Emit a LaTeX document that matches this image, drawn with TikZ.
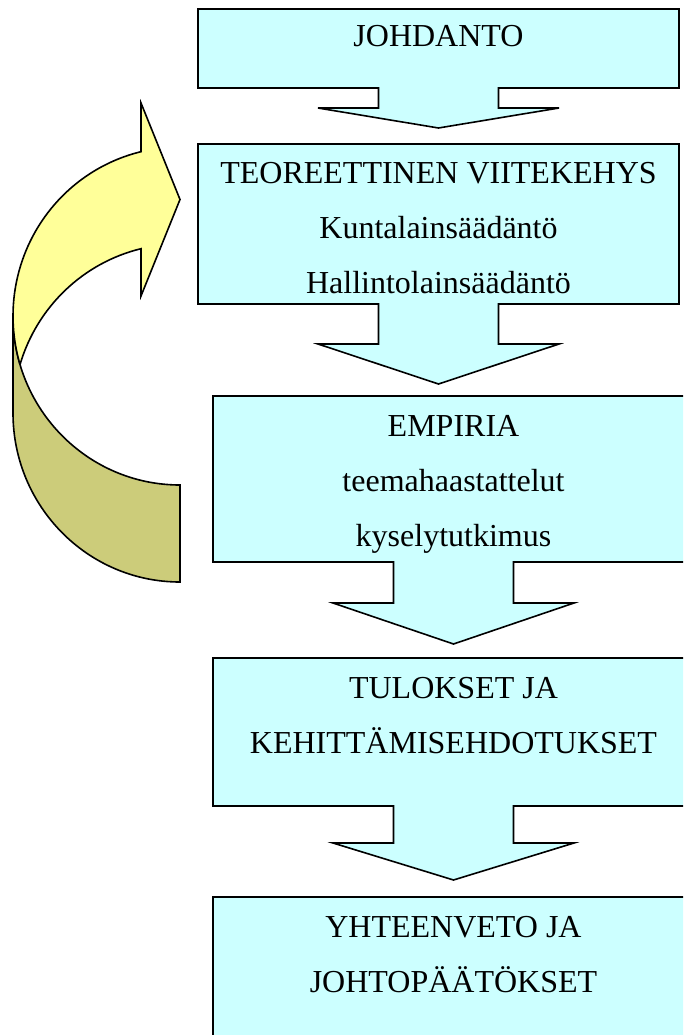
\documentclass[tikz,border=0pt]{standalone}
\usepackage{fontspec}
\setmainfont{Liberation Serif}

\definecolor{boxcyan}{HTML}{CCFFFF}
\definecolor{loopyellow}{HTML}{FFFF99}
\definecolor{loopolive}{RGB}{204,204,122}

\begin{document}
\begin{tikzpicture}[x=1pt, y=-1pt, line join=miter,
  callout/.style={fill=boxcyan, draw=black, line width=1.6pt},
  boxtext/.style={font=\fontsize{32}{55}\selectfont, align=center, anchor=base, inner sep=0pt}]

  \useasboundingbox (0,0) rectangle (683,1035);
  \clip (0,0) rectangle (683,1035);

  % Down-arrow callouts: left/top/right/bottom/arrow step
  \foreach \xl/\yt/\xr/\yb/\ah in {198/9/679/88/20, 198/144/679/304/40,
                                  213/396/694/562/41, 213/658/694/806/37}{
    \pgfmathsetmacro\xc{(\xl+\xr)/2}
    \draw[callout] (\xl,\yt) -- (\xr,\yt) -- (\xr,\yb) -- (\xc+60,\yb) -- (\xc+60,\yb+\ah)
      -- (\xc+120.5,\yb+\ah) -- (\xc,\yb+2*\ah) -- (\xc-120.5,\yb+\ah) -- (\xc-60,\yb+\ah)
      -- (\xc-60,\yb) -- (\xl,\yb) -- cycle;
  }
  % Last box runs off the page
  \draw[callout] (213,897) rectangle (694,1045);

  % Texts (anchored at the baseline of their last line)
  \node[boxtext] (intro) at (438.5,47) {JOHDANTO};
  \node[boxtext] (theory) at (438.5,293) {TEOREETTINEN VIITEKEHYS\\Kuntalainsäädäntö\\Hallintolainsäädäntö};
  \node[boxtext] (empiria) at (453.5,546) {EMPIRIA\\teemahaastattelut\\kyselytutkimus};
  \node[boxtext] (results) at (453.5,753) {TULOKSET JA\\KEHITTÄMISEHDOTUKSET};
  \node[boxtext] (summary) at (453.5,992) {YHTEENVETO JA\\JOHTOPÄÄTÖKSET};

  % Curved arrow back to the theory box
  \draw[fill=loopolive, line width=1.6pt] (180,582)
    arc[start angle=90, end angle=180, x radius=167, y radius=169] -- (13,316)
    arc[start angle=180, end angle=90, x radius=167, y radius=169] -- cycle;
  \draw[fill=loopyellow, line width=1.6pt] (20.05,364.57)
    arc[start angle=163.3, end angle=256.5, x radius=167, y radius=169]
    -- (141,103) -- (180,199.5) -- (141,296) -- (141,248.7)
    arc[start angle=256.5, end angle=196.7, x radius=167, y radius=169] -- cycle;
\end{tikzpicture}
\end{document}
